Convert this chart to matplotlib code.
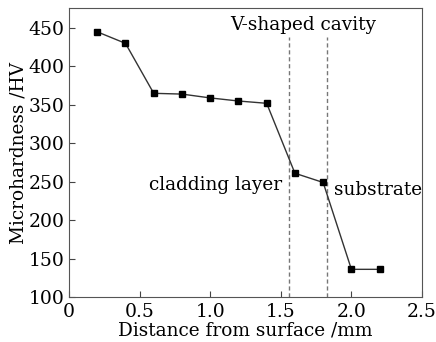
import matplotlib
matplotlib.use("Agg")
import matplotlib.pyplot as plt

distance = [0.2, 0.4, 0.6, 0.8, 1.0, 1.2, 1.4, 1.6, 1.8, 2.0, 2.2]
hardness = [445, 430, 365, 364, 359, 355, 352, 261, 249, 136, 136]
boundaries = [1.56, 1.83]
x_ticks = [0, 0.5, 1.0, 1.5, 2.0, 2.5]
x_tick_labels = ["0", "0.5", "1.0", "1.5", "2.0", "2.5"]
y_ticks = [100, 150, 200, 250, 300, 350, 400, 450]

plt.rcParams['font.family'] = ['DejaVu Serif']
plt.rcParams['mathtext.fontset'] = 'dejavuserif'

fig = plt.figure(figsize=(4.36, 3.42), dpi=100)
ax = fig.add_axes([69/436, 1-297/342, (422-69)/436, (297-8)/342])

ax.plot(distance, hardness, color='#333333', lw=1.0, marker='s', ms=4.5,
        mfc='black', mec='black', zorder=3)
for b in boundaries:
    ax.plot([b, b], [100, 438], color='#777777', lw=1.0, ls=(0, (3, 2)), zorder=2)

ax.text(1.66, 454, 'V-shaped cavity', ha='center', va='center', fontsize=13.3)
ax.text(1.04, 246, 'cladding layer', ha='center', va='center', fontsize=13.3)
ax.text(2.19, 239, 'substrate', ha='center', va='center', fontsize=13.3)

ax.set_xlim(0, 2.5)
ax.set_ylim(100, 476)
ax.set_xticks(x_ticks)
ax.set_xticklabels(x_tick_labels)
ax.set_yticks(y_ticks)
ax.tick_params(direction='in', labelsize=13.5, length=4, color='#444444')
ax.tick_params(axis='x', pad=4)
ax.tick_params(axis='y', pad=3)
for s in ax.spines.values():
    s.set_color('#555555')
ax.set_xlabel('Distance from surface /mm', fontsize=13.3, labelpad=1)
ax.set_ylabel('Microhardness /HV', fontsize=13.3, labelpad=1)

fig.savefig('out.png', dpi=100)
